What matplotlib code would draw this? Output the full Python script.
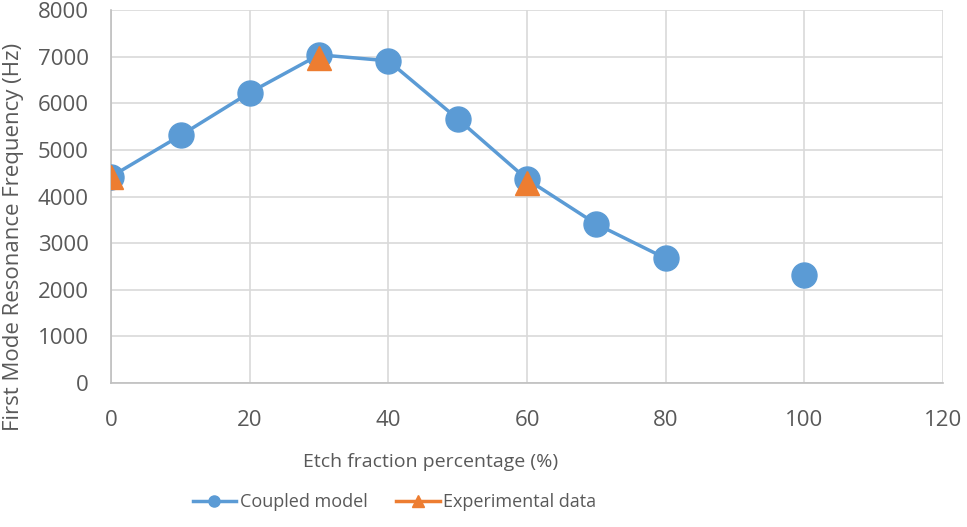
import numpy as np
import matplotlib
matplotlib.use("Agg")
from matplotlib import pyplot as plt
from matplotlib.lines import Line2D

# coupled model (line broken between 80 and 100)
model_x = [0, 10, 20, 30, 40, 50, 60, 70, 80, 90, 100]
model_y = [4430, 5310, 6230, 7040, 6910, 5665, 4370, 3410, 2675, np.nan, 2310]

# experimental data
exp_x = [0, 30, 60]
exp_y = [4420, 6980, 4300]

x_ticks = [0, 20, 40, 60, 80, 100, 120]
y_ticks = [0, 1000, 2000, 3000, 4000, 5000, 6000, 7000, 8000]

BLUE = "#5B9BD5"
ORANGE = "#ED7D31"
TEXT = "#595959"
GRID = "#D9D9D9"

plt.rcParams["font.family"] = ["Open Sans", "DejaVu Sans"]

fig = plt.figure(figsize=(9.67, 5.27), dpi=100)
ax = fig.add_axes([0.115, 0.273, 0.86, 0.708])

ax.plot(model_x, model_y, color=BLUE, lw=2.5, marker="o", ms=18,
        markeredgecolor=BLUE, zorder=3)
ax.plot(exp_x, exp_y, ls="none", color=ORANGE, marker="^", ms=17,
        markeredgecolor=ORANGE, zorder=4)

ax.set_xlim(0, 120)
ax.set_ylim(0, 8000)
ax.set_xticks(x_ticks)
ax.set_yticks(y_ticks)
ax.grid(True, color=GRID, lw=1.2)
ax.set_axisbelow(True)
for side in ["top", "right"]:
    ax.spines[side].set_visible(False)
for side in ["left", "bottom"]:
    ax.spines[side].set_color("#BFBFBF")
    ax.spines[side].set_linewidth(1.2)
ax.tick_params(length=0, labelsize=16, colors=TEXT)
ax.tick_params(axis="x", pad=19)
ax.tick_params(axis="y", pad=16)

fig.text(0.445, 0.123, "Etch fraction percentage (%)", ha="center", va="center",
         fontsize=14, color=TEXT)
fig.text(0.014, 0.55, "First Mode Resonance Frequency (Hz)", ha="center",
         va="center", rotation=90, fontsize=16, color=TEXT)

handles = [
    Line2D([], [], color=BLUE, lw=2.5, marker="o", ms=8),
    Line2D([], [], color=ORANGE, lw=2.5, marker="^", ms=8),
]
fig.legend(handles, ["Coupled model", "Experimental data"], loc="center",
           bbox_to_anchor=(0.408, 0.047), ncol=2, frameon=False, fontsize=13,
           labelcolor=TEXT, handlelength=2.4, handletextpad=0.2,
           columnspacing=1.6)

fig.savefig("out.png", dpi=100)
